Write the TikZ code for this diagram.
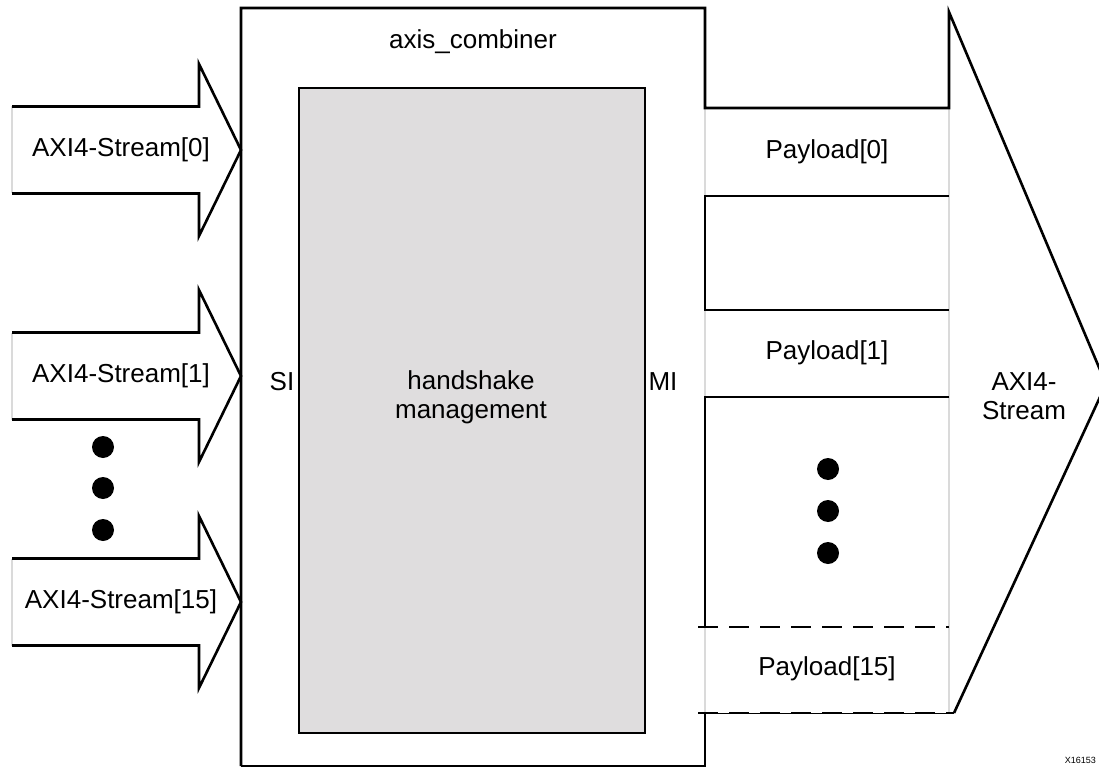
\documentclass[tikz,border=0pt]{standalone}
\usepackage{fontspec}
\setmainfont{Liberation Sans}
\definecolor{corefill}{RGB}{223,221,222}
\definecolor{edgegray}{RGB}{218,218,218}
\tikzset{
  outl/.style={line width=2.6pt, line join=miter, black},
  softedge/.style={line width=2.6pt, edgegray},
  lbl/.style={inner sep=0pt, font=\fontsize{26}{31}\selectfont, align=center},
  dotmark/.style={fill=black, draw=none},
  dashline/.style={line width=2.6pt, dash pattern=on 20pt off 11pt},
}
\begin{document}
\begin{tikzpicture}[x=1pt,y=-1pt]
\clip (0,0) rectangle (1099,767);
\fill[white] (0,0) rectangle (1099,767);

% handshake core
\node[draw, outl, fill=corefill, minimum width=346pt, minimum height=645pt, inner sep=0pt] (core) at (472,410.5) {};

% input arrows
\foreach \c/\n/\t in {150/a0/{AXI4-Stream[0]}, 376/a1/{AXI4-Stream[1]}, 602/a15/{AXI4-Stream[15]}}{
  \draw[softedge] (12,\c-43.5) -- (12,\c+43.5);
  \draw[outl] (12,\c-43.5) -- (199,\c-43.5) -- (199,\c-86) -- (241,\c) -- (199,\c+86) -- (199,\c+43.5) -- (12,\c+43.5);
  \node[lbl] (\n) at (121,\c) {\t};
}

% left dots
\foreach \y/\n in {447/ld1, 488/ld2, 530/ld3}{
  \fill[dotmark] (103,\y) circle (11pt);
  \coordinate (\n) at (103,\y);
}

% gray band edges
\draw[softedge] (949,108) -- (949,713);
\draw[softedge] (705,108) -- (705,196);
\draw[softedge] (705,310) -- (705,397);
\draw[softedge] (705,627) -- (705,713);

% outer block and output arrow
\draw[outl] (241,766) -- (241,8) -- (705,8) -- (705,108) -- (949,108) -- (949,12) -- (1106,384) -- (954,713);
\draw[outl] (949,196) -- (705,196) -- (705,310) -- (949,310);
\draw[outl] (949,397) -- (705,397) -- (705,627);
\draw[dashline] (698,627) -- (949,627);
\draw[line width=0.9pt] (698,713) -- (954,713);
\draw[dashline] (698,713) -- (954,713);
\draw[outl] (705,713) -- (705,766) -- (241,766);

% right dots
\foreach \y/\n in {469/rd1, 511/rd2, 553/rd3}{
  \fill[dotmark] (828,\y) circle (11pt);
  \coordinate (\n) at (828,\y);
}

% labels
\node[lbl] (title) at (473,42) {axis\_combiner};
\node[lbl] (hs) at (471,397) {handshake\\[-2pt]management};
\node[lbl] (si) at (282,382) {SI};
\node[lbl] (mi) at (663,382) {MI};
\node[lbl] (p0) at (827,152) {Payload[0]};
\node[lbl] (p1) at (827,353) {Payload[1]};
\node[lbl] (p15) at (827,669) {Payload[15]};
\node[lbl] (out) at (1024,396) {AXI4-\\[-2pt]Stream};
\node[inner sep=0pt, anchor=south east, font=\fontsize{9}{10}\selectfont] (fig) at (1096,764) {X16153};
\end{tikzpicture}
\end{document}
